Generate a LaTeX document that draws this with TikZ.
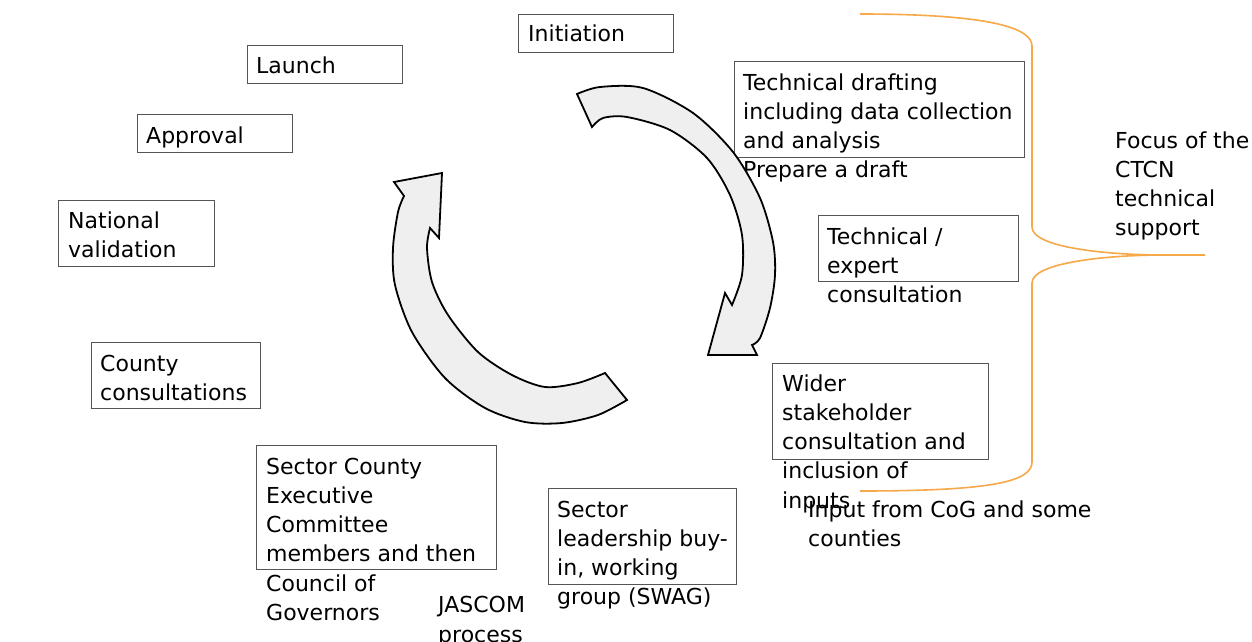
\documentclass[tikz,border=0pt]{standalone}
\usepackage{fontspec}
\setmainfont{DejaVu Sans}
\definecolor{boxgray}{RGB}{85,85,85}
\definecolor{arrfill}{RGB}{239,239,239}
\definecolor{braceorange}{RGB}{247,168,72}
\begin{document}
\begin{tikzpicture}[x=1pt,y=-1pt,
  box/.style={draw=boxgray, line width=1.1pt, inner sep=0pt, anchor=north west},
  txt/.style={anchor=base west, inner sep=0pt, align=left, font=\fontsize{22}{29.3}\selectfont},
  arr/.style={draw=black, line width=1.8pt, fill=arrfill, line join=miter},
  bracepath/.style={draw=braceorange, line width=1.6pt}]
\useasboundingbox (0,0) rectangle (1252,642);
\fill[white] (0,0) rectangle (1252,642);

% boxes
\node[box, minimum width=155pt, minimum height=38pt] (binit) at (518,14) {};
\node[box, minimum width=155pt, minimum height=38pt] (blaunch) at (247,45) {};
\node[box, minimum width=155pt, minimum height=38pt] (bappr) at (137,114) {};
\node[box, minimum width=156pt, minimum height=66pt] (bnat) at (58,200) {};
\node[box, minimum width=169pt, minimum height=66pt] (bcounty) at (91,342) {};
\node[box, minimum width=240pt, minimum height=124pt] (bcec) at (256,445) {};
\node[box, minimum width=188pt, minimum height=96pt] (bsect) at (548,488) {};
\node[box, minimum width=216pt, minimum height=96pt] (bwider) at (772,363) {};
\node[box, minimum width=290pt, minimum height=96pt] (bdraft) at (734,61) {};
\node[box, minimum width=200pt, minimum height=66pt] (bexpert) at (818,215) {};

% texts (anchor = baseline of the last line)
\node[txt] (tinit) at (528,42) {Initiation};
\node[txt] (tlaunch) at (256,74) {Launch};
\node[txt] (tappr) at (146,143) {Approval};
\node[txt] (tnat) at (68,257.3) {National\\validation};
\node[txt] (tcounty) at (100,400.3) {County\\consultations};
\node[txt] (tcec) at (266,620.5) {Sector County\\Executive\\Committee\\members and then\\Council of\\Governors};
\node[txt] (tjas) at (438,642) {JASCOM\\process};
\node[txt] (tsect) at (557,604.9) {Sector\\leadership buy-\\in, working\\group (SWAG)};
\node[txt] (twider) at (782,508.2) {Wider\\stakeholder\\consultation and\\inclusion of\\inputs};
\node[txt] (tinput) at (808,546.3) {Input from CoG and some\\counties};
\node[txt] (tdraft) at (743,177.9) {Technical drafting\\including data collection\\and analysis\\Prepare a draft};
\node[txt] (texpert) at (827,302.6) {Technical /\\expert\\consultation};
\node[txt] (tfocus) at (1115,235.9) {Focus of the\\CTCN\\technical\\support};

% orange brace
\coordinate (brtop) at (860,14);
\coordinate (brtip) at (1205,255);
\coordinate (brbot) at (860,491);
\draw[bracepath] (brtop) .. controls (990,14) and (1032,28) .. (1032,46)
  -- (1032,227) .. controls (1032,248) and (1110,255) .. (1163,255) -- (brtip);
\draw[bracepath] (1163,255) .. controls (1110,255) and (1032,262) .. (1032,283)
  -- (1032,462) .. controls (1032,482) and (990,491) .. (brbot);

% right circular arrow
\draw[arr] plot[smooth] coordinates {(577,94) (600,87) (643,88) (693,113) (733,152) (760,198) (773,242) (775,275) (770,308) (760,338) (752,345)}
  -- (757,355) -- (708,355) -- (725,293) -- (732,305)
  -- plot[smooth] coordinates {(732,305) (742,275) (742,235) (730,195) (707,158) (670,130) (627,117) (603,118) (592,127)}
  -- cycle;

% left circular arrow
\draw[arr] plot[smooth] coordinates {(627,400) (598,415) (562,423) (525,422) (485,408) (445,378) (412,332) (395,285) (393,248) (398,212) (404,196)}
  -- (394,182) -- (442,173) -- (439,238) -- (430,228)
  -- plot[smooth] coordinates {(430,228) (427,248) (432,282) (448,315) (478,352) (512,375) (545,387) (578,383) (605,373)}
  -- cycle;
\end{tikzpicture}
\end{document}
